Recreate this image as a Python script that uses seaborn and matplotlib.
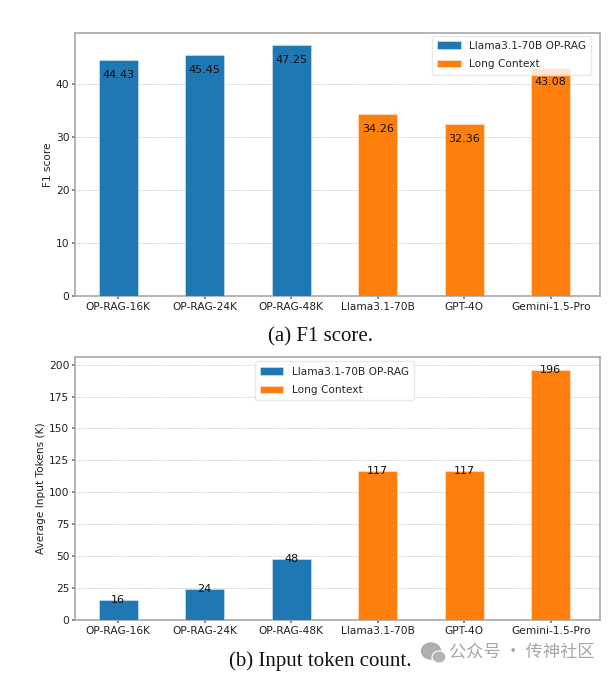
import pandas as pd
import seaborn as sns
import matplotlib.pyplot as plt
from matplotlib.patches import Ellipse

models = ['OP-RAG-16K', 'OP-RAG-24K', 'OP-RAG-48K', 'Llama3.1-70B', 'GPT-4O', 'Gemini-1.5-Pro']
groups = ['Llama3.1-70B OP-RAG'] * 3 + ['Long Context'] * 3
f1_scores = [44.43, 45.45, 47.25, 34.26, 32.36, 43.08]
input_tokens = [16, 24, 48, 117, 117, 196]
f1_ticks = [0, 10, 20, 30, 40]
token_ticks = [0, 25, 50, 75, 100, 125, 150, 175, 200]
colors = ['#1f77b4', '#ff7f0e']

sns.set_theme(style='whitegrid')
W, H = 613, 678


def draw_panel(box, values, ylabel, ymax, ticks, label_shift, legend_anchor, caption, caption_x, caption_y):
    # box is left, top, right, bottom in pixels of the figure
    left, top, right, bottom = box
    ax = fig.add_axes([left / W, 1 - bottom / H, (right - left) / W, (bottom - top) / H])
    df = pd.DataFrame({'model': models, 'value': values, 'group': groups})
    sns.barplot(data=df, x='model', y='value', hue='group', palette=colors, dodge=False, saturation=1,
                width=0.45, edgecolor=(1, 1, 1, 0.5), linewidth=0.5, ax=ax, zorder=3)
    for i, v in enumerate(values):
        ax.text(i, v + label_shift, str(v), ha='center', va='center', fontsize=8, color='#111111', zorder=5)
    ax.set_xlim(-0.5, 5.57)
    ax.set_ylim(0, ymax)
    ax.set_yticks(ticks)
    ax.set_xlabel('')
    ax.set_ylabel(ylabel, fontsize=7.6, color='#222222', labelpad=2)
    ax.tick_params(axis='both', labelsize=7.7, length=2, color='#777777', labelcolor='#222222', pad=2, left=True, bottom=True)
    ax.grid(axis='y', linestyle=(0, (2, 1)), linewidth=0.6, color='#d0d0d0', zorder=0)
    ax.grid(axis='x', visible=False)
    ax.set_axisbelow(True)
    for s in ax.spines.values():
        s.set_color('#a8a8a8')
        s.set_linewidth(1.2)
    ax.legend(loc='center', bbox_to_anchor=legend_anchor, fontsize=7.6, framealpha=0.8,
              edgecolor='#e4e4e4', title=None, borderpad=0.5, labelspacing=0.8, handlelength=2.2)
    fig.text(caption_x / W, 1 - caption_y / H, caption, ha='center', va='center',
             family='Liberation Serif', fontsize=15, color='#111111')
    return ax


fig = plt.figure(figsize=(W / 100, H / 100), dpi=100)

draw_panel((75, 33, 600, 296), f1_scores, 'F1 score', 49.6, f1_ticks, -2.75, (0.832, 0.916),
           '(a) F1 score.', 320, 337)
draw_panel((75, 357, 600, 620), input_tokens, 'Average Input Tokens (K)', 206, token_ticks, 0, (0.494, 0.909),
           '(b) Input token count.', 320, 661)

# watermark
fig.text(449 / W, 1 - 652 / H, '公众号 · 传神社区', family=['Noto Sans CJK SC', 'DejaVu Sans'],
         fontsize=12.4, color='#a6a6a6', ha='left', va='center')
icon = fig.add_axes([0, 0, 1, 1], facecolor='none')
icon.set_xlim(0, W)
icon.set_ylim(H, 0)
icon.axis('off')
icon.add_patch(Ellipse((431, 651), 19, 16, color='#a6a6a6', alpha=0.9))
icon.add_patch(Ellipse((439, 657), 14, 12, facecolor='#b4b4b4', edgecolor='white', linewidth=0.8))

plt.savefig('out.png', dpi=100)
